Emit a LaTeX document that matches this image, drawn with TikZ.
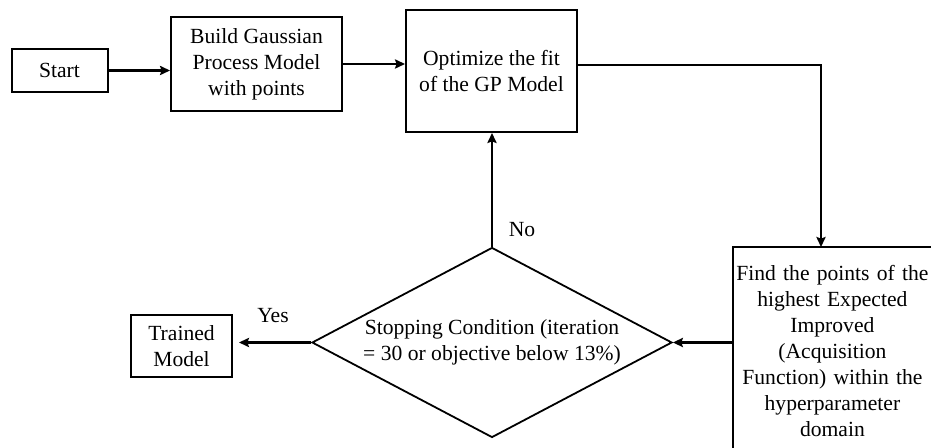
\documentclass[tikz,border=0pt]{standalone}
\usepackage{fontspec}
\setmainfont{Liberation Serif}
\usetikzlibrary{shapes.geometric,arrows.meta}
\begin{document}
\begin{tikzpicture}[x=0.5pt,y=-0.5pt,
  every node/.style={font=\fontsize{10.8pt}{13pt}\selectfont},
  box/.style={draw,line width=1pt,align=center,inner sep=0pt},
  textblock/.style={align=center,inner sep=0pt},
  edge/.style={line width=1pt},
  arr/.style={line width=1.1pt,-{Stealth[length=5pt,width=4.6pt,inset=0.8pt]}},
  lbl/.style={inner sep=0pt}]
\useasboundingbox (0,0) rectangle (931,448);
\node[box,minimum width=48pt,minimum height=21.5pt] (start) at (59.5,70.5) {Start};
\node[box,minimum width=85.5pt,minimum height=47pt] (build) at (256.5,64) {Build Gaussian\\Process Model\\with points};
\node[box,minimum width=85.5pt,minimum height=61pt] (opt) at (491.5,71) {Optimize the fit\\of the GP Model};
\node[textblock,anchor=north west,minimum width=99pt,minimum height=104pt,text width=99pt] (find) at (733,247) {Find the points of the\\highest Expected\\Improved\\(Acquisition\\Function) within the\\hyperparameter\\domain};
\draw[edge] ([yshift=-10pt]find.south west) -- (find.north west) -- ([xshift=20pt]find.north east);
\node[draw,diamond,line width=0.9pt,aspect=1.9,inner sep=0pt,minimum width=180pt,minimum height=95pt,align=center] (dec) at (492,342.5) {Stopping Condition (iteration\\= 30 or objective below 13\%)};
\node[box,minimum width=50.5pt,minimum height=31pt] (trained) at (181.5,346) {Trained\\Model};
\node[lbl] (yes) at (273,316) {Yes};
\node[lbl] (no) at (522,230) {No};
\coordinate (turn) at (821,65);
\draw[arr] (start.east) -- (start.east -| build.west);
\draw[arr] (build.east) -- (build.east -| opt.west);
\draw[arr] (opt.east |- turn) -- (turn) -- (turn |- find.north);
\draw[arr] (dec.north) -- (dec.north |- opt.south);
\draw[arr] (dec.east -| find.west) -- (dec.east);
\draw[arr,shorten >=3pt] (dec.west) -- (dec.west -| trained.east);
\end{tikzpicture}
\end{document}
